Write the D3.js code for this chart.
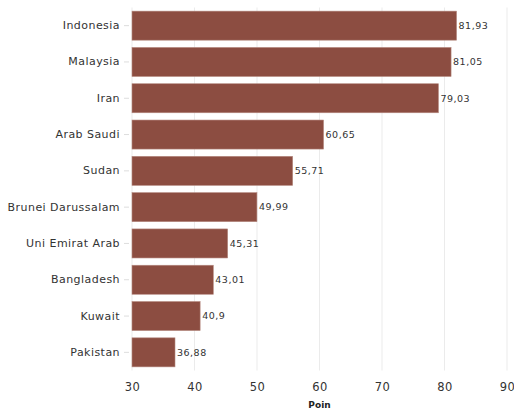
<!DOCTYPE html>
<html>
<head>
<meta charset="utf-8" />
<style>
    body { margin: 0; background: #fff; }
    text { font-family: "DejaVu Sans", Verdana, sans-serif; }
</style>
</head>
<body>
<div id="container"></div>
<script src="https://cdn.jsdelivr.net/npm/d3@7/dist/d3.min.js"></script>
<script>
    const countries = ['Indonesia', 'Malaysia', 'Iran', 'Arab Saudi', 'Sudan', 'Brunei Darussalam', 'Uni Emirat Arab', 'Bangladesh', 'Kuwait', 'Pakistan']
    const scores = [81.93, 81.05, 79.03, 60.65, 55.71, 49.99, 45.31, 43.01, 40.9, 36.88]
    const xTicks = [30, 40, 50, 60, 70, 80, 90]

    const width = 514
    const height = 411
    const plot = { left: 132, right: 507, top: 7.5, bottom: 370.5 }

    let svg = d3.select('#container').append('svg').attr('width', width).attr('height', height)

    let xScale = d3.scaleLinear().domain([30, 90]).range([plot.left, plot.right])
    let yScale = d3.scaleBand().domain(countries).range([plot.top, plot.bottom]).paddingInner(0.2).paddingOuter(0.1)

    // gridlines
    svg.append('g').selectAll('line').data(xTicks).join('line')
        .attr('x1', d => xScale(d)).attr('x2', d => xScale(d))
        .attr('y1', plot.top).attr('y2', plot.bottom)
        .attr('stroke', '#ebebeb').attr('stroke-width', 1)

    // bars
    svg.append('g').selectAll('rect').data(countries).join('rect')
        .attr('x', xScale(30))
        .attr('y', d => yScale(d))
        .attr('width', (d, i) => xScale(scores[i]) - xScale(30))
        .attr('height', yScale.bandwidth())
        .attr('fill', '#8c4d41')
        .attr('stroke', '#b58a80').attr('stroke-width', 0.6)

    // value labels
    svg.append('g').selectAll('text').data(countries).join('text')
        .attr('x', (d, i) => xScale(scores[i]) + 2)
        .attr('y', d => yScale(d) + yScale.bandwidth() / 2)
        .attr('dy', '0.35em')
        .attr('font-size', 9.5)
        .attr('letter-spacing', 0.5)
        .attr('fill', '#333')
        .text((d, i) => String(scores[i]).replace('.', ','))

    // y axis
    let yAxis = d3.axisLeft(yScale).tickSize(5).tickPadding(4)
    let gy = svg.append('g').attr('transform', `translate(${plot.left - 3},0)`).call(yAxis)
    gy.select('.domain').remove()
    gy.selectAll('.tick line').attr('stroke', '#ddd')
    gy.selectAll('.tick text').attr('font-size', 11).attr('letter-spacing', 0.45).attr('fill', '#333').style('font-family', '"DejaVu Sans", Verdana, sans-serif')

    // x axis
    let xAxis = d3.axisBottom(xScale).tickValues(xTicks).tickSize(0).tickPadding(12)
    let gx = svg.append('g').attr('transform', `translate(0,${plot.bottom})`).call(xAxis)
    gx.select('.domain').remove()
    gx.selectAll('.tick text').attr('font-size', 11.5).attr('letter-spacing', 0.5).attr('fill', '#333').style('font-family', '"DejaVu Sans", Verdana, sans-serif')

    svg.append('text').attr('x', xScale(60)).attr('y', 408)
        .attr('text-anchor', 'middle').attr('font-size', 9).attr('font-weight', 'bold').attr('fill', '#222')
        .text('Poin')
</script>
</body>
</html>
